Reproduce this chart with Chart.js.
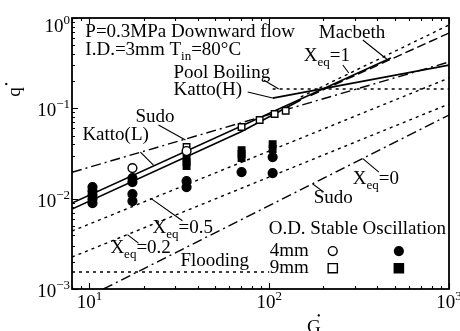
<!DOCTYPE html>
<html>
<head>
<meta charset="utf-8">
<script src="https://cdn.jsdelivr.net/npm/chart.js@4/dist/chart.umd.min.js"></script>
<style>
  html, body { margin: 0; padding: 0; background: #fff; }
  canvas { display: block; }
</style>
</head>
<body>
<canvas id="chf" width="460" height="331"></canvas>
<script>
// Dimensionless critical heat flux q* against mass velocity G* (log-log)

// Measured CHF points (G*, q*)
const openCircleG = [17.35, 34.7];
const openCircleQ = [0.0218, 0.0337];
const openSquareG = [34.7, 70.2, 88.5, 107.2, 123.5];
const openSquareQ = [0.0373, 0.0621, 0.0742, 0.0865, 0.094];
const filledCircleG = [10.4, 10.4, 10.4, 10.4, 10.4, 17.35, 17.35, 17.35, 17.35, 34.7, 34.7, 70.2, 104.5, 104.5];
const filledCircleQ = [0.01343, 0.01214, 0.01096, 0.0099, 0.00894, 0.0169, 0.01527, 0.01125, 0.0094, 0.01566, 0.01343, 0.0197, 0.0289, 0.0192];
const filledSquareG = [34.7, 34.7, 34.7, 70.2, 70.2, 70.2, 104.5, 104.5];
const filledSquareQ = [0.0282, 0.0254, 0.0230, 0.0345, 0.0312, 0.0282, 0.0402, 0.0354];

// Correlations and limit lines (G*, q*)
const kattoLG = [8, 475];
const kattoLQ = [0.00894, 0.3605];
const kattoL2G = [8, 70.2, 149.7];
const kattoL2Q = [0.00767, 0.0553, 0.1236];
const kattoHG = [104.5, 1000];
const kattoHQ = [0.130, 0.3017];
const macbethG = [170, 1000];
const macbethQ = [0.1386, 0.682];
const sudoUpperG = [8, 1000];
const sudoUpperQ = [0.0196, 0.326];
const sudoLowerG = [11.96, 1000];
const sudoLowerQ = [0.001, 0.0843];
const xeq1G = [149.7, 1000];
const xeq1Q = [0.1334, 0.8366];
const xeq05G = [8, 1000];
const xeq05Q = [0.004377, 0.2165];
const xeq02G = [8, 1000];
const xeq02Q = [0.002256, 0.1116];
const poolG = [104.5, 1000];
const poolQ = [0.1636, 0.1636];
const floodG = [8, 100];
const floodQ = [0.00154, 0.00154];

// Axis ranges and tick decades
const xMin = 8, xMax = 1000, yMin = 0.001, yMax = 1;
const xDecades = [1, 2, 3];
const yDecades = [-3, -2, -1, 0];

const pts = (G, Q) => G.map((g, i) => ({ x: g, y: Q[i] }));

const SERIF = '"Liberation Serif", "DejaVu Serif", serif';
const BIG = '19px ', SMALL = '13px ';
const SHORT = [3, 4], LONG = [9, 4], DASHDOT = [10, 4, 2, 4];

function lineSet(label, G, Q, dash, width) {
  return {
    label, data: pts(G, Q), showLine: true, borderColor: '#000',
    borderWidth: width || 1.4, borderDash: dash, pointRadius: 0,
    fill: false, order: 2
  };
}
function markSet(label, G, Q, style, filled) {
  return {
    label, data: pts(G, Q), showLine: false, pointStyle: style,
    pointRadius: style === 'rect' ? 4.6 : 4.4, borderWidth: 1.4,
    pointBorderColor: '#000', pointBackgroundColor: filled ? '#000' : '#fff',
    order: 0
  };
}

// Text annotations placed in data space; parts: [text, isSubscript]
const notes = [
  { g: 9.49, q: 0.616, parts: [['P=0.3MPa Downward flow']] },
  { g: 9.49, q: 0.389, parts: [['I.D.=3mm T'], ['in', 1], ['=80°C']] },
  { g: 29.36, q: 0.2165, parts: [['Pool Boiling']] },
  { g: 29.36, q: 0.1404, parts: [['Katto(H)']] },
  { g: 188.6, q: 0.6005, parts: [['Macbeth']] },
  { g: 155.6, q: 0.334, parts: [['X'], ['eq', 1], ['=1']] },
  { g: 18.03, q: 0.0705, parts: [['Sudo']] },
  { g: 9.14, q: 0.04457, parts: [['Katto(L)']] },
  { g: 22.42, q: 0.00416, parts: [['X'], ['eq', 1], ['=0.5']] },
  { g: 13.08, q: 0.0025, parts: [['X'], ['eq', 1], ['=0.2']] },
  { g: 32.1, q: 0.001793, parts: [['Flooding']] },
  { g: 176.9, q: 0.00894, parts: [['Sudo']] },
  { g: 291.6, q: 0.01452, parts: [['X'], ['eq', 1], ['=0']] },
  { g: 99.3, q: 0.00405, parts: [['O.D. Stable Oscillation']] },
  { g: 100.6, q: 0.002314, parts: [['4mm']] },
  { g: 100.6, q: 0.0015, parts: [['9mm']] }
];

// Leader lines from labels to curves: [g1, q1, g2, q2]
const leaders = [
  [331.6, 0.5707, 456.9, 0.3426],
  [256.6, 0.3017, 277.1, 0.246],
  [93.1, 0.2058, 112.9, 0.1636],
  [75.9, 0.1515, 104.5, 0.130],
  [24.22, 0.0653, 34.2, 0.04457],
  [19.22, 0.0328, 22.71, 0.02355],
  [21.85, 0.01015, 32.9, 0.00569],
  [16.27, 0.004003, 18.74, 0.00322],
  [174.7, 0.01452, 201.1, 0.01183],
  [331.6, 0.0278, 407.2, 0.0197]
];

// Key symbols: [g, q, style, filled]
const keyMarks = [
  [225.7, 0.00263, 'circle', false],
  [526.2, 0.00263, 'circle', true],
  [225.7, 0.0017, 'rect', false],
  [526.2, 0.0017, 'rect', true]
];

function drawParts(ctx, parts, x, y) {
  let cx = x;
  for (const [t, sub] of parts) {
    ctx.font = (sub ? SMALL : BIG) + SERIF;
    ctx.fillText(t, cx, sub ? y + 5 : y);
    cx += ctx.measureText(t).width;
  }
}

function drawMark(ctx, x, y, style, filled) {
  ctx.save();
  ctx.lineWidth = 1.4;
  ctx.strokeStyle = '#000';
  ctx.fillStyle = filled ? '#000' : '#fff';
  ctx.beginPath();
  if (style === 'circle') ctx.arc(x, y, 4.4, 0, Math.PI * 2);
  else ctx.rect(x - 4.6, y - 4.6, 9.2, 9.2);
  ctx.fill();
  ctx.stroke();
  ctx.restore();
}

const decor = {
  id: 'decor',
  beforeDraw(chart) {
    const ctx = chart.ctx;
    ctx.save();
    ctx.fillStyle = '#fff';
    ctx.fillRect(0, 0, chart.width, chart.height);
    ctx.restore();
  },
  afterDraw(chart) {
    const ctx = chart.ctx;
    const a = chart.chartArea;
    const xs = chart.scales.x, ys = chart.scales.y;
    const X = v => xs.getPixelForValue(v), Y = v => ys.getPixelForValue(v);
    ctx.save();
    ctx.strokeStyle = '#000';
    ctx.fillStyle = '#000';

    // frame
    ctx.lineWidth = 1.8;
    ctx.setLineDash([]);
    ctx.strokeRect(a.left, a.top, a.right - a.left, a.bottom - a.top);

    // inward ticks
    ctx.lineWidth = 1.1;
    ctx.beginPath();
    for (let e = -3; e <= 0; e++) {
      for (let m = 1; m <= 9; m++) {
        const v = m * Math.pow(10, e);
        if (v < yMin || v > yMax) continue;
        const py = Math.round(Y(v)) + 0.5;
        const len = m === 1 ? 6 : 3;
        ctx.moveTo(a.left, py); ctx.lineTo(a.left + len, py);
      }
    }
    for (let e = 0; e <= 3; e++) {
      for (let m = 1; m <= 9; m++) {
        const v = m * Math.pow(10, e);
        if (v < xMin || v > xMax) continue;
        const px = Math.round(X(v)) + 0.5;
        const len = m === 1 ? 6 : 3;
        ctx.moveTo(px, a.bottom); ctx.lineTo(px, a.bottom - len);
        ctx.moveTo(px, a.top); ctx.lineTo(px, a.top + len);
      }
    }
    ctx.stroke();

    // tick labels
    ctx.textAlign = 'left';
    ctx.textBaseline = 'alphabetic';
    for (const e of yDecades) {
      const py = Y(Math.pow(10, e));
      const ex = e === 0 ? '0' : '\u2212' + (-e);
      ctx.font = SMALL + SERIF;
      const we = ctx.measureText(ex).width;
      ctx.font = BIG + SERIF;
      const wb = ctx.measureText('10').width;
      const base = Math.max(py + 8, a.top + 14);
      const right = a.left - 2;
      ctx.fillText('10', right - we - wb, base);
      ctx.font = SMALL + SERIF;
      ctx.fillText(ex, right - we, base - 8);
    }
    for (const e of xDecades) {
      const px = X(Math.pow(10, e));
      const ex = String(e);
      ctx.font = SMALL + SERIF;
      const we = ctx.measureText(ex).width;
      ctx.font = BIG + SERIF;
      const wb = ctx.measureText('10').width;
      const start = px - (wb + we) / 2;
      ctx.fillText('10', start, a.bottom + 19);
      ctx.font = SMALL + SERIF;
      ctx.fillText(ex, start + wb, a.bottom + 11);
    }

    // axis titles
    ctx.font = BIG + SERIF;
    ctx.fillText('G', 307, a.bottom + 44);
    ctx.font = '10px ' + SERIF;
    ctx.fillText('\u2022', 317, a.bottom + 30);
    ctx.save();
    ctx.translate(20, 92);
    ctx.rotate(-Math.PI / 2);
    ctx.font = BIG + SERIF;
    ctx.textAlign = 'center';
    ctx.fillText('q', 0, 0);
    ctx.font = '10px ' + SERIF;
    ctx.fillText('\u2022', 8, -10);
    ctx.restore();

    // leaders
    ctx.lineWidth = 1.1;
    ctx.beginPath();
    for (const [g1, q1, g2, q2] of leaders) {
      ctx.moveTo(X(g1), Y(q1));
      ctx.lineTo(X(g2), Y(q2));
    }
    ctx.stroke();

    // labels
    ctx.textAlign = 'left';
    for (const n of notes) drawParts(ctx, n.parts, X(n.g), Y(n.q));

    // key symbols
    for (const [g, q, s, f] of keyMarks) drawMark(ctx, X(g), Y(q), s, f);

    ctx.restore();
  }
};

new Chart(document.getElementById('chf'), {
  type: 'scatter',
  data: {
    datasets: [
      lineSet('Katto(L)', kattoLG, kattoLQ, [], 1.7),
      lineSet('Katto(L) 9mm', kattoL2G, kattoL2Q, [], 1.7),
      lineSet('Katto(H)', kattoHG, kattoHQ, [], 1.7),
      lineSet('Macbeth', macbethG, macbethQ, LONG),
      lineSet('Sudo', sudoUpperG, sudoUpperQ, DASHDOT),
      lineSet('Sudo / Xeq=0', sudoLowerG, sudoLowerQ, DASHDOT),
      lineSet('Xeq=1', xeq1G, xeq1Q, SHORT),
      lineSet('Xeq=0.5', xeq05G, xeq05Q, SHORT),
      lineSet('Xeq=0.2', xeq02G, xeq02Q, SHORT),
      lineSet('Pool Boiling', poolG, poolQ, SHORT),
      lineSet('Flooding', floodG, floodQ, SHORT),
      markSet('4mm stable', openCircleG, openCircleQ, 'circle', false),
      markSet('9mm stable', openSquareG, openSquareQ, 'rect', false),
      markSet('4mm oscillation', filledCircleG, filledCircleQ, 'circle', true),
      markSet('9mm oscillation', filledSquareG, filledSquareQ, 'rect', true)
    ]
  },
  options: {
    responsive: false,
    devicePixelRatio: 1,
    animation: false,
    layout: { padding: { left: 72, top: 18, right: 11, bottom: 42 } },
    scales: {
      x: { type: 'logarithmic', min: xMin, max: xMax, display: false },
      y: { type: 'logarithmic', min: yMin, max: yMax, display: false }
    },
    plugins: { legend: { display: false }, tooltip: { enabled: false } },
    events: []
  },
  plugins: [decor]
});
</script>
</body>
</html>
